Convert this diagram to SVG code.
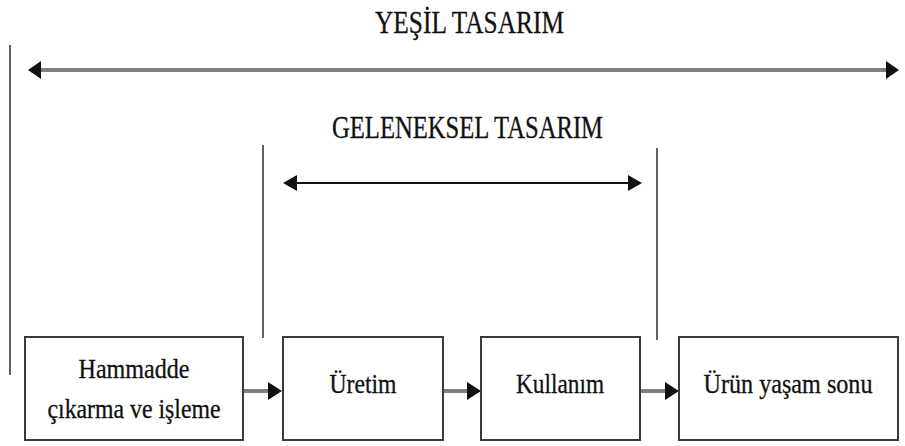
<svg xmlns="http://www.w3.org/2000/svg" width="905" height="446" viewBox="0 0 905 446">
<style>
text{font-family:"Liberation Serif","DejaVu Serif","Times New Roman",serif;fill:#111;stroke:#111;stroke-width:0.3;}
.title{font-size:31px;}
.lbl{font-size:28px;text-anchor:middle;}
.box{fill:#fff;stroke:#3a3a3a;stroke-width:2;}
.vline{stroke:#606060;stroke-width:2;fill:none;}
.thick{stroke:#7f7f7f;stroke-width:4;fill:none;}
.thin{stroke:#111;stroke-width:2;fill:none;}
.head{fill:#111;}
</style>
<rect width="905" height="446" fill="#fff"/>
<g id="labels">
<text class="title" x="375" y="33" textLength="189" lengthAdjust="spacingAndGlyphs">YEŞİL TASARIM</text>
<text class="title" x="332" y="138" textLength="271" lengthAdjust="spacingAndGlyphs">GELENEKSEL TASARIM</text>
</g>
<g id="connectors">
<line class="vline" x1="10" y1="45" x2="10" y2="375"/>
<line class="vline" x1="263" y1="145" x2="263" y2="338"/>
<line class="vline" x1="657" y1="148" x2="657" y2="340"/>
<line class="thick" x1="38" y1="70" x2="889" y2="70"/>
<polygon class="head" points="28,70 41,61 41,79"/>
<polygon class="head" points="899,70 886,61 886,79"/>
<line class="thin" x1="295" y1="183" x2="630" y2="183"/>
<polygon class="head" points="283,183 297,175 297,191"/>
<polygon class="head" points="642,183 628,175 628,191"/>
<line class="thick" x1="243" y1="391" x2="270" y2="391"/>
<polygon class="head" points="282,391 268,382 268,400"/>
<line class="thick" x1="443" y1="391" x2="469" y2="391"/>
<polygon class="head" points="481,391 467,382 467,400"/>
<line class="thick" x1="640" y1="391" x2="667" y2="391"/>
<polygon class="head" points="679,391 665,382 665,400"/>
</g>
<g id="node-hammadde">
<rect class="box" x="25" y="337" width="218" height="103"/>
<text class="lbl" x="134" y="378" textLength="111" lengthAdjust="spacingAndGlyphs">Hammadde</text>
<text class="lbl" x="134" y="418" textLength="173" lengthAdjust="spacingAndGlyphs">çıkarma ve işleme</text>
</g>
<g id="node-uretim">
<rect class="box" x="283" y="337" width="160" height="103"/>
<text class="lbl" x="363" y="393" textLength="67" lengthAdjust="spacingAndGlyphs">Üretim</text>
</g>
<g id="node-kullanim">
<rect class="box" x="481" y="337" width="159" height="103"/>
<text class="lbl" x="560" y="393" textLength="88" lengthAdjust="spacingAndGlyphs">Kullanım</text>
</g>
<g id="node-urun-yasam-sonu">
<rect class="box" x="679" y="337" width="219" height="103"/>
<text class="lbl" x="788" y="393" textLength="169" lengthAdjust="spacingAndGlyphs">Ürün yaşam sonu</text>
</g>
</svg>
